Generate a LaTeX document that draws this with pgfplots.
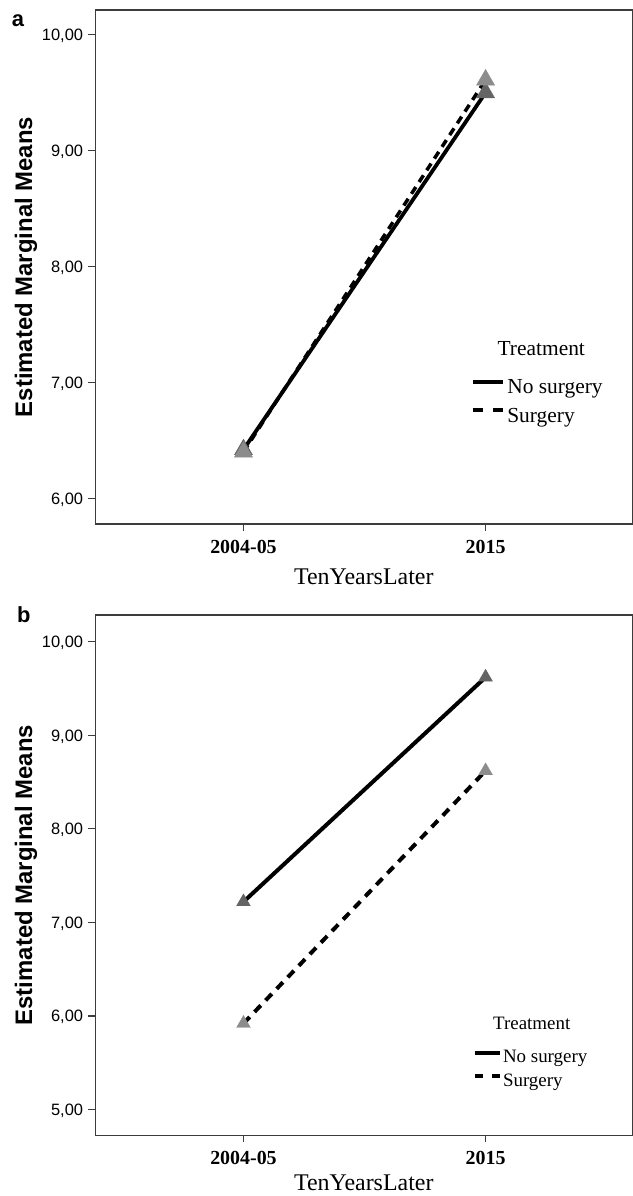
\documentclass[border=0pt]{standalone}
\usepackage{fontspec}
\setmainfont{Liberation Serif}
\newfontfamily\arialfont{Liberation Sans}
\usepackage{pgfplots}
\pgfplotsset{compat=1.18}
\definecolor{axisgray}{HTML}{3C3C3C}
\definecolor{darktri}{HTML}{646464}
\definecolor{lighttri}{HTML}{8C8C8C}
\pgfplotsset{
  spssaxis/.style={
    scale only axis, width=537bp,
    xmin=-0.612, xmax=1.606,
    xtick={0,1}, xticklabels={2004-05,2015},
    tick pos=left, tick align=outside, major tick length=7bp,
    axis line style={axisgray, line width=1.3bp},
    tick style={axisgray, line width=1.3bp},
    xticklabel style={font=\fontsize{20}{20}\selectfont\bfseries, anchor=north, inner sep=0pt, yshift=-9bp},
    yticklabel style={font=\arialfont\fontsize{16.5}{16.5}\selectfont, anchor=base east, inner sep=0pt, xshift=-5bp, yshift=-5.9bp,
      /pgf/number format/.cd, fixed, fixed zerofill, precision=2, use comma, assume math mode=true},
    ylabel={Estimated Marginal Means},
    ylabel style={font=\arialfont\bfseries\fontsize{24}{24}\selectfont, at={(axis description cs:-0.129,0.5)}, anchor=center},
    xlabel={TenYearsLater},
    xlabel style={font=\fontsize{24}{24}\selectfont, anchor=base, inner sep=0pt},
    clip=false,
  }
}
\begin{document}
\begin{tikzpicture}
\useasboundingbox (0,0) rectangle (633bp,1196bp);
% ---------------- panel a ----------------
\begin{axis}[spssaxis,
  at={(95.3bp,672bp)}, anchor=south west,
  height=514bp, ymin=5.778, ymax=10.213, ytick={6,7,8,9,10},
  xlabel style={at={(axis description cs:0.5,-0.1173)}},
  legend style={at={(axis description cs:0.6991,0.2885)}, anchor=north west, draw=none, fill=none,
    inner sep=0pt, outer sep=0pt, font=\fontsize{21.5}{21.5}\selectfont, row sep=4bp,
    nodes={inner sep=1bp}, /tikz/every odd column/.style={column sep=1bp}},
  legend cell align=left]
\addplot[black, line width=3.8bp, mark=triangle*, mark size=10.5bp,
  mark options={solid, draw=darktri, line width=0.3bp, fill=darktri},
  legend image code/.code={\path[draw=none,fill=none] (0bp,-12bp) -- (0bp,12bp);\draw[black, line width=4bp] (0bp,5.7bp) -- (30.6bp,5.7bp);}]
  coordinates {(0,6.42) (1,9.50)};
\addlegendentry{No surgery}
\addplot[black, line width=3.5bp, dash pattern=on 8bp off 6bp, mark=triangle*, mark size=10.5bp,
  mark options={solid, draw=lighttri, line width=0.3bp, fill=lighttri},
  legend image code/.code={\path[draw=none,fill=none] (0bp,-12bp) -- (0bp,12bp);\draw[black, line width=4bp, dash pattern=on 10bp off 10.6bp] (0bp,5.7bp) -- (30.6bp,5.7bp);}]
  coordinates {(0,6.40) (1,9.61)};
\addlegendentry{Surgery}
\node[anchor=base, font=\fontsize{21.5}{21.5}\selectfont, inner sep=0pt] at (axis description cs:0.8305,0.3274) {Treatment};
\node[anchor=base, font=\arialfont\bfseries\fontsize{22}{22}\selectfont, inner sep=0pt] at (axis description cs:-0.144,0.967) {a};
\end{axis}
% ---------------- panel b ----------------
\begin{axis}[spssaxis,
  at={(95.3bp,60.7bp)}, anchor=south west,
  height=520.3bp, ymin=4.725, ymax=10.285, ytick={5,6,7,8,9,10},
  xlabel style={at={(axis description cs:0.5,-0.106)}},
  legend style={at={(axis description cs:0.7034,0.168)}, anchor=north west, draw=none, fill=none,
    inner sep=0pt, outer sep=0pt, font=\fontsize{19}{19}\selectfont, row sep=4.5bp,
    nodes={inner sep=1bp}, /tikz/every odd column/.style={column sep=0bp}},
  legend cell align=left]
\addplot[black, line width=4bp, mark=triangle*, mark size=8bp,
  mark options={solid, draw=darktri, line width=0.3bp, fill=darktri},
  legend image code/.code={\path[draw=none,fill=none] (0bp,-9.5bp) -- (0bp,9.5bp);\draw[black, line width=4bp] (0bp,4.6bp) -- (25bp,4.6bp);}]
  coordinates {(0,7.22) (1,9.62)};
\addlegendentry{No surgery}
\addplot[black, line width=4bp, dash pattern=on 9bp off 7bp, mark=triangle*, mark size=8bp,
  mark options={solid, draw=lighttri, line width=0.3bp, fill=lighttri},
  legend image code/.code={\path[draw=none,fill=none] (0bp,-9.5bp) -- (0bp,9.5bp);\draw[black, line width=4bp, dash pattern=on 8.3bp off 8.4bp] (0bp,4.6bp) -- (25bp,4.6bp);}]
  coordinates {(0,5.92) (1,8.62)};
\addlegendentry{Surgery}
\node[anchor=base, font=\fontsize{19}{19}\selectfont, inner sep=0pt] at (axis description cs:0.8127,0.2024) {Treatment};
\node[anchor=base, font=\arialfont\bfseries\fontsize{22}{22}\selectfont, inner sep=0pt] at (axis description cs:-0.133,0.985) {b};
\end{axis}
\end{tikzpicture}
\end{document}
